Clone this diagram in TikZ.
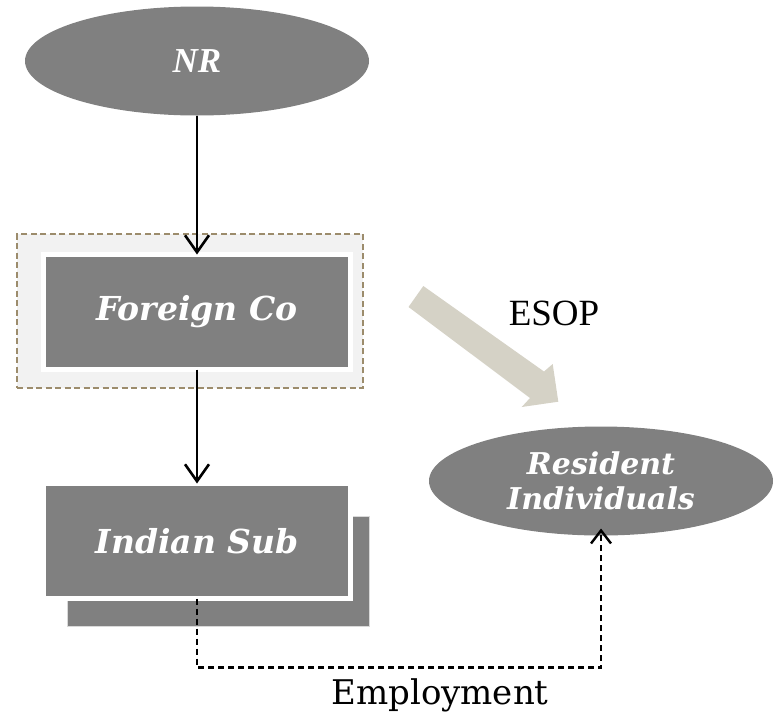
\documentclass[tikz,border=0pt]{standalone}
\usepackage{fontspec}
\usetikzlibrary{shapes.geometric,arrows.meta}
\newfontfamily\geofont{DejaVu Serif}
\newfontfamily\romfont{Liberation Serif}
\definecolor{boxgray}{HTML}{808080}
\definecolor{framefill}{HTML}{F2F2F2}
\definecolor{framedash}{HTML}{9C8C6C}
\definecolor{esopcol}{HTML}{D5D2C6}
\tikzset{
  oval/.style={ellipse, fill=boxgray, draw=none, inner sep=0pt, outer sep=0pt,
    minimum width=344pt, minimum height=109pt, text=white, align=center},
  entity/.style={rectangle, fill=boxgray, draw=white, line width=5pt, inner sep=0pt,
    outer sep=0pt, minimum width=307pt, minimum height=115pt, text=white},
  shadowbox/.style={rectangle, fill=boxgray, draw=white!85!black, line width=0.8pt,
    inner sep=0pt, outer sep=0pt, minimum width=302pt, minimum height=110pt},
  frame/.style={rectangle, fill=framefill, draw=framedash, line width=1.4pt,
    dash pattern=on 6pt off 3.5pt, inner sep=0pt, outer sep=0pt,
    minimum width=346pt, minimum height=154pt},
  ownarrow/.style={draw=black, line width=2.6pt,
    -{Straight Barb[length=17pt,width=24pt,line width=2.6pt]}},
  emparrow/.style={draw=black, line width=2.4pt, dash pattern=on 6pt off 4pt,
    -{Straight Barb[length=13pt,width=20pt,line width=2.4pt]}},
  bigtext/.style={font=\geofont\bfseries\itshape\fontsize{33}{38}\selectfont},
  plainlabel/.style={text=black, inner sep=0pt}
}
\begin{document}
\begin{tikzpicture}[x=1pt,y=-1pt]
  \useasboundingbox (0,0) rectangle (775,718);

  % parent holding
  \node[oval, font=\romfont\bfseries\itshape\fontsize{35}{40}\selectfont] (nr) at (197,61) {NR};

  % foreign company inside its dashed frame
  \node[frame] (fcframe) at (190,311) {};
  \node[entity, bigtext] (fc) at (197,312) {Foreign Co};

  % Indian subsidiary, stacked pair
  \node[shadowbox] (isback) at (218,571) {};
  \node[entity, bigtext] (is) at (197,541) {Indian Sub};

  % employees
  \node[oval, font=\geofont\bfseries\itshape\fontsize{30}{35}\selectfont] (ri) at (601,481)
    {Resident\\Individuals};

  % ownership chain
  \draw[ownarrow] (nr.south) -- (fc.north);
  \draw[ownarrow] (fc.south) -- (is.north);

  % ESOP grant: broad block arrow
  \fill[esopcol] (408.5,307) -- (530,398) -- (521.7,407) -- (558.3,401.7)
     -- (552.7,364) -- (544,371.5) -- (423.3,286) -- cycle;
  \node[plainlabel, font=\romfont\fontsize{37}{40}\selectfont] (esop) at (554,313) {ESOP};

  % employment link
  \draw[emparrow] (is.south) -- ++(0,69) -| ([yshift=7pt]ri.south);
  \node[plainlabel, font=\geofont\fontsize{34}{38}\selectfont] (emp) at (440,695) {Employment};
\end{tikzpicture}
\end{document}
